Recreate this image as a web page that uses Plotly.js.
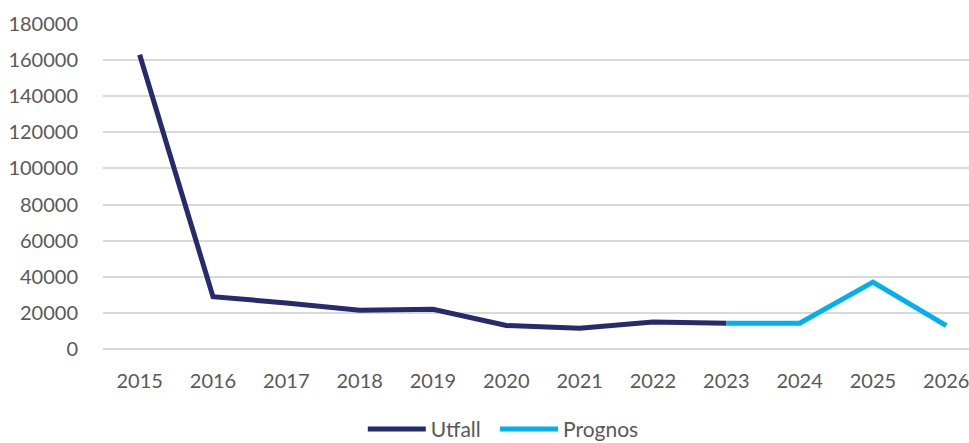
<!DOCTYPE html>
<html>
<head>
<meta charset="utf-8">
<script src="https://cdn.plot.ly/plotly-3.0.1.min.js"></script>
<style>html,body{margin:0;padding:0;background:#fff;}#chart{width:969px;height:443px;}</style>
</head>
<body>
<div id="chart"></div>
<script>
const years = ["2015","2016","2017","2018","2019","2020","2021","2022","2023","2024","2025","2026"];
const utfall = [163000, 29000, 25500, 21500, 22000, 13000, 11500, 15000, 14300, null, null, null];
const prognos = [null, null, null, null, null, null, null, null, 14300, 14300, 37000, 13000];
const yTicks = [0,20000,40000,60000,80000,100000,120000,140000,160000,180000];

const font = {family: "Lato, 'Open Sans', sans-serif", size: 20, color: "#595959"};
const legendFont = {family: font.family, size: 21, color: "#595959"};

const traces = [
  {x: years, y: utfall, name: "Utfall", type: "scatter", mode: "lines", legend: "legend",
   line: {color: "#262B6E", width: 5, shape: "linear"}, connectgaps: false},
  {x: years, y: prognos, name: "Prognos", type: "scatter", mode: "lines", legend: "legend2",
   line: {color: "#00B0F0", width: 5}, connectgaps: false}
];

const layout = {
  width: 969, height: 443,
  margin: {l: 103, r: 0, t: 24, b: 93.5, pad: 0, autoexpand: false},
  paper_bgcolor: "#fff", plot_bgcolor: "#fff",
  font: font,
  showlegend: true,
  legend: {orientation: "h", x: 0.3, xanchor: "left", y: -0.247, yanchor: "middle",
           font: legendFont, itemwidth: 58},
  legend2: {orientation: "h", x: 0.4527, xanchor: "left", y: -0.247, yanchor: "middle",
           font: legendFont, itemwidth: 58},
  xaxis: {type: "category", categoryarray: years, range: [-0.5, 11.31],
          showgrid: false, zeroline: false, showline: false,
          ticks: "outside", ticklen: 14, tickcolor: "rgba(0,0,0,0)",
          tickfont: font, fixedrange: true, automargin: false},
  yaxis: {range: [0, 180000], tickvals: yTicks, ticktext: yTicks.map(String),
          showgrid: true, gridcolor: "#D9D9D9", gridwidth: 2,
          zeroline: true, zerolinecolor: "#D9D9D9", zerolinewidth: 2,
          showline: false, ticks: "outside", ticklen: 20, tickcolor: "rgba(0,0,0,0)",
          tickfont: font, fixedrange: true, automargin: false}
};

Plotly.newPlot("chart", traces, layout, {displayModeBar: false, staticPlot: true});
</script>
</body>
</html>
